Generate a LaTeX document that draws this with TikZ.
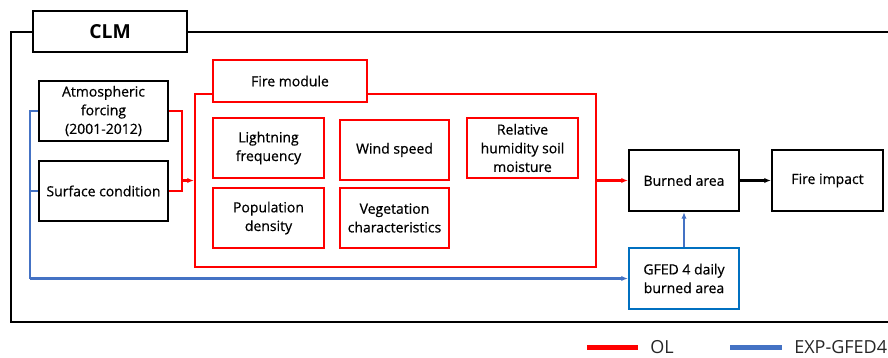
\documentclass[tikz,border=0pt]{standalone}
\usepackage{fontspec}
\setmainfont{Open Sans}
\usetikzlibrary{arrows.meta}
\definecolor{olred}{RGB}{255,0,0}
\definecolor{expblue}{RGB}{68,114,196}
\definecolor{gfedblue}{RGB}{0,112,192}
\pgfdeclarelayer{background layer}
\pgfsetlayers{background layer,main}
\tikzstyle{blk}=[rectangle,draw=black,line width=1.6pt,fill=white,align=center,inner sep=1pt,font=\fontsize{10.5}{14}\selectfont\addfontfeature{FakeBold=0.6}]
\tikzstyle{rbox}=[blk,draw=olred]
\tikzstyle{bbox}=[blk,draw=gfedblue]
\tikzstyle{olline}=[draw=olred,line width=1.6pt]
\tikzstyle{expline}=[draw=expblue,line width=1.6pt]
\tikzstyle{tip}=[-{Latex[length=5pt,width=4pt]}]
\tikzstyle{legtext}=[anchor=west,inner sep=0pt,font=\fontsize{13.5}{14}\selectfont,text=black!85]
\begin{document}
\begin{tikzpicture}[x=0.75pt,y=-0.75pt]
			\useasboundingbox (0,0) rectangle (888,357);
			\node (module) at (395.5,180.5) [rbox,fill=none,minimum width=300.75pt,minimum height=129.75pt] {};
			\node (firelab) at (290,81) [rbox,minimum width=115.5pt,minimum height=31.5pt] {Fire module};
			\node (clm) at (110,31.5) [blk,minimum width=115.5pt,minimum height=30.75pt,font=\fontsize{14.5}{16}\selectfont\bfseries] {CLM};
			\node (atm) at (103.5,111) [blk,minimum width=96.75pt,minimum height=45pt] {Atmospheric\\forcing\\(2001-2012)};
			\node (surf) at (103.5,191) [blk,minimum width=96.75pt,minimum height=45pt] {Surface condition};
			\node (light) at (268.5,148) [rbox,minimum width=83.25pt,minimum height=45pt] {Lightning\\frequency};
			\node (wind) at (394.5,150) [rbox,minimum width=81.75pt,minimum height=45pt] {Wind speed};
			\node (rh) at (522.5,148) [rbox,minimum width=83.25pt,minimum height=45pt] {Relative\\humidity soil\\moisture};
			\node (pop) at (268.5,218) [rbox,minimum width=83.25pt,minimum height=45pt] {Population\\density};
			\node (veg) at (394.5,218) [rbox,minimum width=81.75pt,minimum height=45pt] {Vegetation\\characteristics};
			\node (burned) at (684,180.5) [blk,minimum width=82.5pt,minimum height=45.75pt] {Burned area};
			\node (impact) at (827.5,180.5) [blk,minimum width=83.25pt,minimum height=45.75pt] {Fire impact};
			\node (gfed) at (684,278.5) [bbox,minimum width=82.5pt,minimum height=45.75pt] {GFED 4 daily\\burned area};
			\coordinate (join) at (182,180.5);
			\coordinate (bl) at (30,278.5);
			\node (ol) at (650,347) [legtext] {OL};
			\node (exp) at (794,347) [legtext] {EXP-GFED4};
			\begin{pgfonlayer}{background layer}
				\draw[line width=1.6pt] (888,32)--(11,32)--(11,322)--(888,322);
				\draw[olline] (atm.east) -| (join);
				\draw[olline] (surf.east) -| (join);
				\draw[olline,tip] (join) -- (module.west);
				\draw[olline,tip] (module.east) -- (burned.west);
				\draw[line width=1.6pt,tip] (burned.east) -- (impact.west);
				\draw[expline] (atm.west) -| (bl);
				\draw[expline] (surf.west) -- (surf.west -| bl);
				\draw[expline,tip] (bl) -- (gfed.west);
				\draw[expline,tip] (gfed.north) -- (burned.south);
				\draw[olred,line width=3.75pt] (587,347)--(638,347);
				\draw[expblue,line width=3.75pt] (730,347)--(782,347);
			\end{pgfonlayer}
		\end{tikzpicture}
\end{document}
